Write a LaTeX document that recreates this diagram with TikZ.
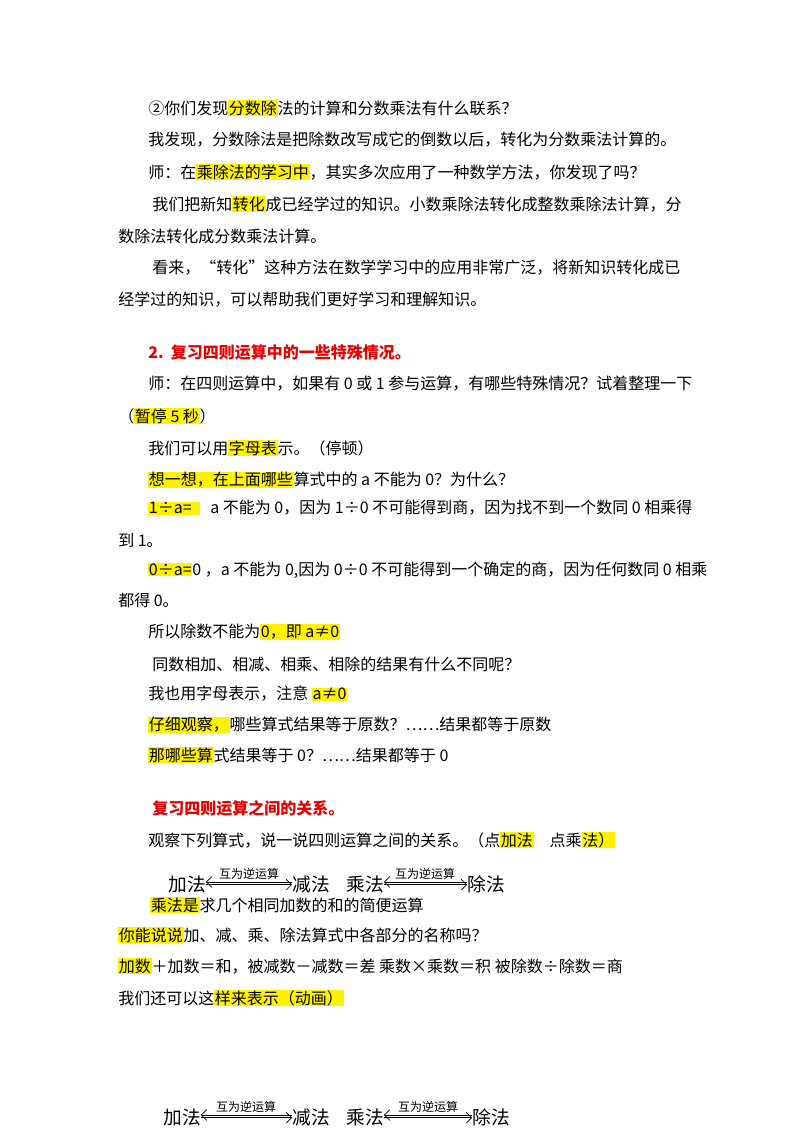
\documentclass[tikz,border=0pt]{standalone}
\usepackage{fontspec}
\setmainfont{Noto Sans CJK SC}
\usetikzlibrary{arrows.meta}
\newcommand{\hlt}[1]{{\setlength{\fboxsep}{0.5pt}\colorbox{yellow}{#1}}}
\definecolor{hred}{RGB}{230,0,0}
\begin{document}
\begin{tikzpicture}[x=0.75pt,y=-0.75pt,
  ln/.style={anchor=west,inner sep=0pt,font=\fontsize{12}{14}\selectfont},
  hd/.style={ln,text=hred,font=\fontsize{12}{14}\selectfont\bfseries},
  op/.style={anchor=center,inner sep=0pt,font=\fontsize{14}{16}\selectfont},
  al/.style={inner sep=0pt,font=\fontsize{9}{10}\selectfont}]
\useasboundingbox (0,0) rectangle (800,1132);
\node[ln] (l1) at (148,108) {②你们发现\hlt{分数除}法的计算和分数乘法有什么联系？};
\node[ln] (l2) at (148,140) {我发现，分数除法是把除数改写成它的倒数以后，转化为分数乘法计算的。};
\node[ln] (l3) at (148,172) {师：在\hlt{乘除法的学习中}，其实多次应用了一种数学方法，你发现了吗？};
\node[ln] (l4) at (152,204) {我们把新知\hlt{转化}成已经学过的知识。小数乘除法转化成整数乘除法计算，分};
\node[ln] (l5) at (118,236) {数除法转化成分数乘法计算。};
\node[ln] (l6) at (152,268) {看来，“转化”这种方法在数学学习中的应用非常广泛，将新知识转化成已};
\node[ln] (l7) at (118,300) {经学过的知识，可以帮助我们更好学习和理解知识。};
\node[hd] (h1) at (148,352) {2.\ \ 复习四则运算中的一些特殊情况。};
\node[ln] (l8) at (148,384) {师：在四则运算中，如果有 0 或 1 参与运算，有哪些特殊情况？试着整理一下};
\node[ln] (l9) at (118,416) {（\hlt{暂停 5 秒}）};
\node[ln] (l10) at (148,448) {我们可以用\hlt{字母表}示。（停顿）};
\node[ln] (l11) at (148,480) {\hlt{想一想，在上面哪些}算式中的 a 不能为 0？为什么？};
\node[ln] (l12) at (148,508) {\hlt{1÷a=\ \ }\ \ \ a 不能为 0，因为 1÷0 不可能得到商，因为找不到一个数同 0 相乘得};
\node[ln] (l13) at (118,540) {到 1。};
\node[ln] (l14) at (148,570) {\hlt{0÷a=}0 ，a 不能为 0,因为 0÷0 不可能得到一个确定的商，因为任何数同 0 相乘};
\node[ln] (l15) at (118,600) {都得 0。};
\node[ln] (l16) at (148,632) {所以除数不能为\hlt{0，即 a≠0}};
\node[ln] (l17) at (152,664) {同数相加、相减、相乘、相除的结果有什么不同呢？};
\node[ln] (l18) at (148,694) {我也用字母表示，注意 \hlt{a≠0}};
\node[ln] (l19) at (148,725) {\hlt{仔细观察，}哪些算式结果等于原数？……结果都等于原数};
\node[ln] (l20) at (148,755) {\hlt{那哪些算}式结果等于 0？……结果都等于 0};
\node[hd] (h2) at (152,808) {复习四则运算之间的关系。};
\node[ln] (l21) at (148,840) {观察下列算式，说一说四则运算之间的关系。（点\hlt{加法}\quad 点乘\hlt{法）}};
% arrows row 1
\node[op] (a1) at (187,884) {加法};
\node[op] (b1) at (311,884) {减法};
\node[op] (c1) at (365,884) {乘法};
\node[op] (d1) at (486,884) {除法};
\draw[-{Straight Barb[length=4pt]},line width=0.5pt] ([yshift=1.5pt]b1.west) -- ([yshift=1.5pt]a1.east);
\draw[-{Straight Barb[length=4pt]},line width=0.5pt] ([yshift=-0.5pt]a1.east) -- ([yshift=-0.5pt]b1.west);
\draw[-{Straight Barb[length=4pt]},line width=0.5pt] ([yshift=1.5pt]d1.west) -- ([yshift=1.5pt]c1.east);
\draw[-{Straight Barb[length=4pt]},line width=0.5pt] ([yshift=-0.5pt]c1.east) -- ([yshift=-0.5pt]d1.west);
\node[al] (t1) at (249,874) {互为逆运算};
\node[al] (t2) at (425,874) {互为逆运算};
\node[ln] (l22) at (150,905) {\hlt{乘法是}求几个相同加数的和的简便运算};
\node[ln] (l23) at (118,935) {\hlt{你能说说}加、减、乘、除法算式中各部分的名称吗？};
\node[ln] (l24) at (118,966) {\hlt{加数}＋加数＝和，被减数－减数＝差 乘数×乘数＝积 被除数÷除数＝商};
\node[ln] (l25) at (118,998) {我们还可以这\hlt{样来表示（动画）}};
% arrows row 2
\node[op] (a2) at (182,1117) {加法};
\node[op] (b2) at (311,1117) {减法};
\node[op] (c2) at (365,1117) {乘法};
\node[op] (d2) at (491,1117) {除法};
\draw[-{Straight Barb[length=4pt]},line width=0.5pt] ([yshift=1.5pt]b2.west) -- ([yshift=1.5pt]a2.east);
\draw[-{Straight Barb[length=4pt]},line width=0.5pt] ([yshift=-0.5pt]a2.east) -- ([yshift=-0.5pt]b2.west);
\draw[-{Straight Barb[length=4pt]},line width=0.5pt] ([yshift=1.5pt]d2.west) -- ([yshift=1.5pt]c2.east);
\draw[-{Straight Barb[length=4pt]},line width=0.5pt] ([yshift=-0.5pt]c2.east) -- ([yshift=-0.5pt]d2.west);
\node[al] (t3) at (246,1107) {互为逆运算};
\node[al] (t4) at (428,1107) {互为逆运算};
\end{tikzpicture}
\end{document}
